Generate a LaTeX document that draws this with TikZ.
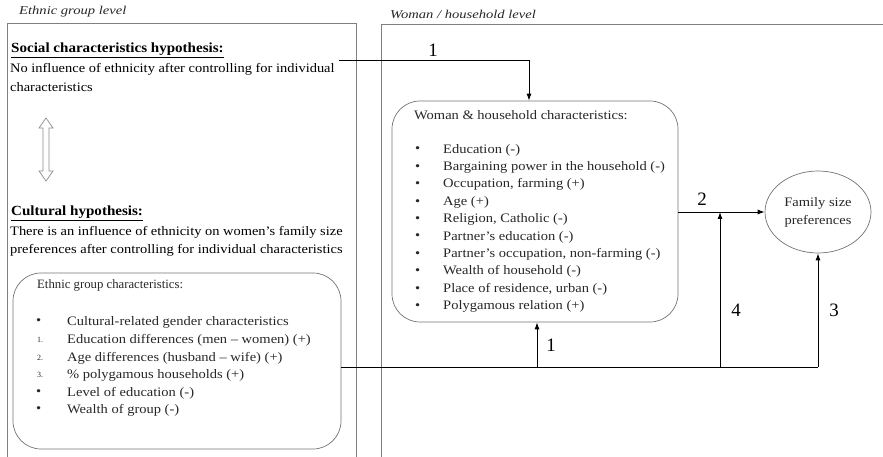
\documentclass[tikz,border=0pt]{standalone}
\usepackage{fontspec}
\setmainfont{Liberation Serif}
\newfontfamily\fontA[FakeStretch=1.115]{Liberation Serif}
\newfontfamily\fontB[FakeStretch=1.12]{Liberation Serif}
\newfontfamily\fontC[FakeStretch=1.22]{Liberation Serif}
\newfontfamily\fontD[FakeStretch=1.08]{Liberation Serif}
\usetikzlibrary{arrows.meta,shapes.geometric}
\begin{document}
\begin{tikzpicture}[x=1bp,y=-1bp,
  txt/.style={inner sep=0pt, anchor=west, font=\fontA\fontsize{13}{15}\selectfont},
  ttl/.style={inner sep=0pt, anchor=west, font=\fontD\fontsize{14}{16}\selectfont\bfseries},
  itm/.style={inner sep=0pt, anchor=west, font=\fontB\fontsize{13}{15}\selectfont, text=black!85},
  sml/.style={inner sep=0pt, anchor=west, font=\fontsize{8}{10}\selectfont, text=black!85},
  hdr/.style={inner sep=0pt, anchor=west, font=\fontC\fontsize{12}{13}\selectfont\itshape, text=black!85},
  panel/.style={draw=black!50, line width=0.8bp},
  rbox/.style={draw=black!55, rounded corners=28bp, line width=0.7bp, inner sep=0pt},
  conn/.style={draw=black, line width=0.9bp},
  arr/.style={conn, -{Latex[length=7bp,width=5bp]}},
  num/.style={inner sep=0pt, font=\fontsize{19}{20}\selectfont}]
\useasboundingbox (0,0) rectangle (883,457);

% panels
\draw[panel] (7,458) -- (7,23) -- (356,23) -- (356,458);
\draw[panel] (381,458) -- (381,24) -- (884,24);
\node[hdr] (hl) at (19,12) {Ethnic group level};
\node[hdr] (hr) at (390,14) {Woman / household level};

% social hypothesis
\node[ttl] (sh) at (11,50) {\underline{Social characteristics hypothesis:}};
\node[txt] (sh1) at (10,69) {No influence of ethnicity after controlling for individual};
\node[txt] (sh2) at (10,87) {characteristics};

% hollow double arrow
\draw[draw=black!45, line width=0.7bp, fill=white] (46,118) -- (53,128) -- (49,128) -- (49,171) -- (53,171) -- (46,181) -- (39,171) -- (43,171) -- (43,128) -- (39,128) -- cycle;

% cultural hypothesis
\node[ttl] (ch) at (11,213) {\underline{Cultural hypothesis:}};
\node[txt] (ch1) at (10,232) {There is an influence of ethnicity on women’s family size};
\node[txt] (ch2) at (10,250) {preferences after controlling for individual characteristics};

% ethnic group box
\node[rbox, minimum width=328bp, minimum height=176bp] (ebox) at (177,361) {};
\node[itm, font=\fontsize{12.8}{15}\selectfont] (et) at (37,285) {Ethnic group characteristics:};
\node[itm] (eb1) at (36,322) {•};
\node[itm] (ei1) at (67,322) {Cultural-related gender characteristics};
\node[sml] (en1) at (37,340) {1.};
\node[itm] (ei2) at (67,340) {Education differences (men – women) (+)};
\node[sml] (en2) at (37,358) {2.};
\node[itm] (ei3) at (67,358) {Age differences (husband – wife) (+)};
\node[sml] (en3) at (37,375) {3.};
\node[itm] (ei4) at (67,375) {\% polygamous households (+)};
\node[itm] (eb5) at (36,393) {•};
\node[itm] (ei5) at (67,393) {Level of education (-)};
\node[itm] (eb6) at (36,410) {•};
\node[itm] (ei6) at (67,410) {Wealth of group (-)};

% woman box
\node[rbox, minimum width=286bp, minimum height=221bp] (wbox) at (535,211.5) {};
\node[itm] (wt) at (414,115) {Woman \& household characteristics:};
\foreach \t [count=\i] in {Education (-),
  Bargaining power in the household (-),
  {Occupation, farming (+)},
  Age (+),
  {Religion, Catholic (-)},
  Partner’s education (-),
  {Partner’s occupation, non-farming (-)},
  Wealth of household (-),
  {Place of residence, urban (-)},
  Polygamous relation (+)} {
  \node[itm] (wb\i) at (415,{150+17.4*(\i-1)}) {•};
  \node[itm] (wi\i) at (443,{150+17.4*(\i-1)}) {\t};
}

% family size ellipse
\node[ellipse, draw=black!55, line width=0.7bp, minimum width=106bp, minimum height=82bp, inner sep=0pt,
      align=center, font=\fontB\fontsize{13}{18}\selectfont, text=black!85] (fam) at (818,212) {Family size\\preferences};

% connectors
\coordinate (s1) at (339,60);
\draw[arr] (s1) -| ([xshift=-6bp]wbox.north);
\coordinate (b1) at (537,367);
\coordinate (b4) at (720,367);
\coordinate (b3) at (818,367);
\draw[conn] (ebox.east |- b1) -- (b3);
\draw[arr] (b1) -- (b1 |- wbox.south);
\draw[arr] (b3) -- (fam.south);
\draw[arr] (wbox.east |- fam.west) -- (fam.west);
\draw[arr] (b4) -- (b4 |- fam.west);

% labels
\node[num] (n1a) at (433,50) {1};
\node[num] (n2) at (702,199) {2};
\node[num] (n4) at (736,310) {4};
\node[num] (n3) at (834,310) {3};
\node[num] (n1b) at (551,345) {1};
\end{tikzpicture}
\end{document}
